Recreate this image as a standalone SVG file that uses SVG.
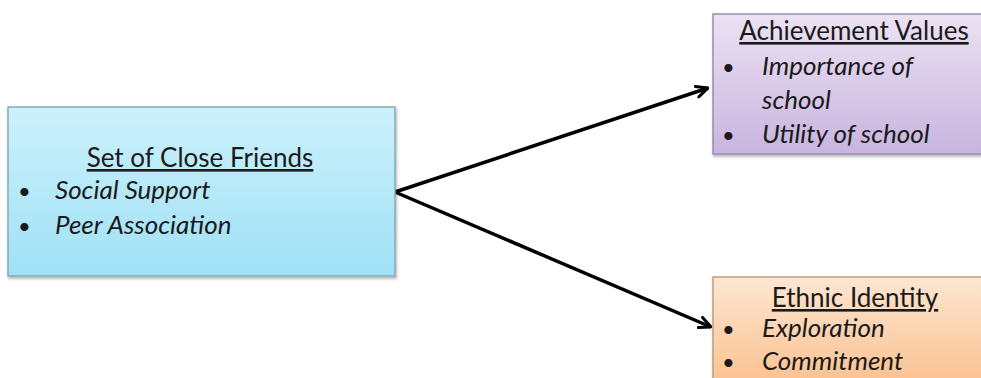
<svg xmlns="http://www.w3.org/2000/svg" width="981" height="378" viewBox="0 0 981 378">
<defs>
<linearGradient id="gBlue" x1="0" y1="0" x2="0" y2="1"><stop offset="0" stop-color="#cdf1fb"/><stop offset="1" stop-color="#9fe1f6"/></linearGradient>
<linearGradient id="gPurple" x1="0" y1="0" x2="0" y2="1"><stop offset="0" stop-color="#ece2f3"/><stop offset="1" stop-color="#c8b4df"/></linearGradient>
<linearGradient id="gOrange" x1="0" y1="0" x2="0" y2="1"><stop offset="0" stop-color="#fde6d2"/><stop offset="1" stop-color="#fbbd88"/></linearGradient>
<filter id="sh" x="-5%" y="-5%" width="110%" height="115%"><feDropShadow dx="1" dy="2" stdDeviation="1.5" flood-color="#000" flood-opacity="0.3"/></filter>
<marker id="arr" viewBox="0 0 14 14" refX="13" refY="7" markerWidth="14" markerHeight="14" markerUnits="userSpaceOnUse" orient="auto">
<path d="M1.5,1.5 L13,7 L1.5,12.5" fill="none" stroke="#000" stroke-width="3" stroke-linecap="round" stroke-linejoin="round"/>
</marker>
</defs>
<style>
text{font-family:Lato,"Open Sans","Liberation Sans",sans-serif;fill:#1a1a1a;font-size:26px}
.t{text-decoration:underline}
.i{font-style:italic}
.b{font-size:22px}
.c{stroke:#000;stroke-width:3.5;fill:none}
</style>
<rect width="981" height="378" fill="#fff"/>
<g id="connectors">
<line class="c" x1="395" y1="192" x2="708" y2="88" marker-end="url(#arr)"/>
<line class="c" x1="395" y1="192" x2="711" y2="327" marker-end="url(#arr)"/>
</g>
<g id="close-friends">
<rect x="8" y="107" width="387" height="169" fill="url(#gBlue)" stroke="#86aab6" stroke-width="1.5" filter="url(#sh)"/>
<text class="t" x="200" y="167" text-anchor="middle">Set of Close Friends</text>
<text class="b" x="18" y="199">•</text><text class="i" x="55" y="199">Social Support</text>
<text class="b" x="18" y="234">•</text><text class="i" x="55" y="234">Peer Association</text>
</g>
<g id="achievement-values">
<rect x="713" y="14" width="275" height="140" fill="url(#gPurple)" stroke="#9c8dac" stroke-width="1.5" filter="url(#sh)"/>
<text class="t" x="854" y="40" text-anchor="middle">Achievement Values</text>
<text class="b" x="722" y="75">•</text><text class="i" x="762" y="75">Importance of</text>
<text class="i" x="762" y="109">school</text>
<text class="b" x="722" y="143">•</text><text class="i" x="762" y="143">Utility of school</text>
</g>
<g id="ethnic-identity">
<rect x="713" y="277" width="275" height="120" fill="url(#gOrange)" stroke="#c49c7c" stroke-width="1.5" filter="url(#sh)"/>
<text class="t" x="855" y="307" text-anchor="middle">Ethnic Identity</text>
<text class="b" x="722" y="337">•</text><text class="i" x="762" y="337">Exploration</text>
<text class="b" x="722" y="370">•</text><text class="i" x="762" y="370">Commitment</text>
</g>
</svg>
